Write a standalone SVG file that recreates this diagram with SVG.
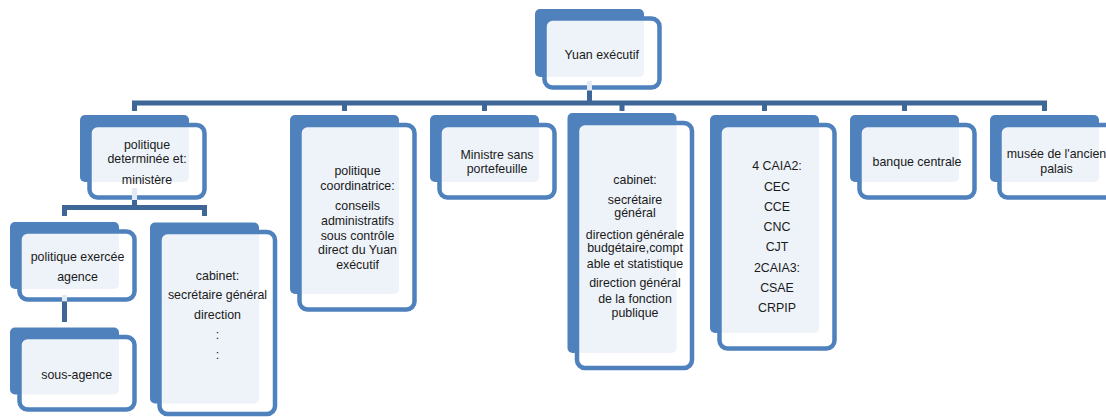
<svg xmlns="http://www.w3.org/2000/svg" width="1106" height="417" viewBox="0 0 1106 417">
<style>
.bk{fill:#4F81BD}
.fr{fill:#FFFFFF;fill-opacity:0.9;stroke:#4F81BD;stroke-width:4.5}
.t{font-family:"Liberation Sans",Arial,sans-serif;font-size:12.4px;fill:#1A1A1A;text-anchor:middle}
.cn{fill:none;stroke:#3E6797;stroke-width:5;stroke-linejoin:miter;stroke-linecap:butt}
.cl{fill:none;stroke:#E4EAF3;stroke-width:5}
</style>
<rect width="1106" height="417" fill="#FFFFFF"/>
<g id="node-yuan">
<rect class="bk" x="535" y="9" width="109" height="68" rx="5"/>
<rect class="fr" x="544.5" y="18.5" width="115" height="69" rx="8"/>
<text class="t" x="601.7" y="58.5">Yuan exécutif</text>
</g>
<g id="node-politique-determinee">
<rect class="bk" x="80" y="115" width="109" height="67" rx="5"/>
<rect class="fr" x="89.5" y="125" width="115" height="72.5" rx="8"/>
<text class="t" x="147" y="148.5">politique</text>
<text class="t" x="147" y="162.8">determinée et:</text>
<text class="t" x="147" y="183.8">ministère</text>
</g>
<g id="node-politique-coordinatrice">
<rect class="bk" x="290" y="115" width="109" height="179" rx="5"/>
<rect class="fr" x="299.5" y="125" width="115" height="184.5" rx="8"/>
<text class="t" x="357.5" y="175.2">politique</text>
<text class="t" x="357.5" y="189.5">coordinatrice:</text>
<text class="t" x="357.5" y="209.5">conseils</text>
<text class="t" x="357.5" y="224.5">administratifs</text>
<text class="t" x="357.5" y="239.5">sous contrôle</text>
<text class="t" x="357.5" y="253.8">direct du Yuan</text>
<text class="t" x="357.5" y="268.8">exécutif</text>
</g>
<g id="node-ministre">
<rect class="bk" x="430" y="115" width="109" height="67" rx="5"/>
<rect class="fr" x="439.5" y="125" width="115" height="72.5" rx="8"/>
<text class="t" x="497" y="158.5">Ministre sans</text>
<text class="t" x="497" y="172.8">portefeuille</text>
</g>
<g id="node-cabinet-yuan">
<rect class="bk" x="567.5" y="113" width="109" height="240" rx="5"/>
<rect class="fr" x="577" y="123" width="115" height="245" rx="8"/>
<text class="t" x="635" y="183.5">cabinet:</text>
<text class="t" x="635" y="203.5">secrétaire</text>
<text class="t" x="635" y="217.2">général</text>
<text class="t" x="635" y="238.8">direction générale</text>
<text class="t" x="635" y="252.2">budgétaire,compt</text>
<text class="t" x="635" y="267.8">able et statistique</text>
<text class="t" x="635" y="287.2">direction général</text>
<text class="t" x="635" y="302.8">de la fonction</text>
<text class="t" x="635" y="317.2">publique</text>
</g>
<g id="node-caia">
<rect class="bk" x="710" y="115" width="109" height="218" rx="5"/>
<rect class="fr" x="719.5" y="125" width="115" height="223.5" rx="8"/>
<text class="t" x="777" y="170.2">4 CAIA2:</text>
<text class="t" x="777" y="190.5">CEC</text>
<text class="t" x="777" y="210.5">CCE</text>
<text class="t" x="777" y="231.2">CNC</text>
<text class="t" x="777" y="251.2">CJT</text>
<text class="t" x="777" y="271.8">2CAIA3:</text>
<text class="t" x="777" y="292.2">CSAE</text>
<text class="t" x="777" y="312.2">CRPIP</text>
</g>
<g id="node-banque">
<rect class="bk" x="850" y="115" width="109" height="67" rx="5"/>
<rect class="fr" x="859.5" y="125" width="115" height="72.5" rx="8"/>
<text class="t" x="917" y="166.2">banque centrale</text>
</g>
<g id="node-musee">
<rect class="bk" x="990" y="115" width="109" height="67" rx="5"/>
<rect class="fr" x="999.5" y="125" width="115" height="72.5" rx="8"/>
<text class="t" x="1056.5" y="158">musée de l'ancien</text>
<text class="t" x="1056.5" y="172.8">palais</text>
</g>
<g id="node-politique-exercee">
<rect class="bk" x="10" y="222" width="109" height="67" rx="5"/>
<rect class="fr" x="19.5" y="231.5" width="115" height="68" rx="8"/>
<text class="t" x="77.5" y="261.2">politique exercée</text>
<text class="t" x="77.5" y="281.2">agence</text>
</g>
<g id="node-sous-agence">
<rect class="bk" x="10" y="327.5" width="109" height="67" rx="5"/>
<rect class="fr" x="19.5" y="337" width="115" height="72.5" rx="8"/>
<text class="t" x="76.7" y="378.5">sous-agence</text>
</g>
<g id="node-cabinet-ministere">
<rect class="bk" x="150" y="222.5" width="109" height="181" rx="5"/>
<rect class="fr" x="159.5" y="232" width="115.5" height="182" rx="8"/>
<text class="t" x="217.5" y="279.5">cabinet:</text>
<text class="t" x="217.5" y="298.5">secrétaire général</text>
<text class="t" x="217.5" y="318.8">direction</text>
<text class="t" x="217.5" y="339">:</text>
<text class="t" x="217.5" y="359">:</text>
</g>
<g id="connectors">
<path class="cl" d="M589.5,81 V90.5 M134.5,188 V200 M64.5,295 V301.5"/>
<path class="cn" d="M589.5,90.5 V103 M134.5,111 V103 H1044.5 V111 M344.5,103 V111 M484.5,103 V111 M622,103 V111 M764.5,103 V111 M904.5,103 V111"/>
<path class="cn" d="M134.5,200 V207.5 M64.5,216 V207.5 H204.5 V216"/>
<path class="cn" d="M64.5,301.5 V322"/>
</g>
</svg>
